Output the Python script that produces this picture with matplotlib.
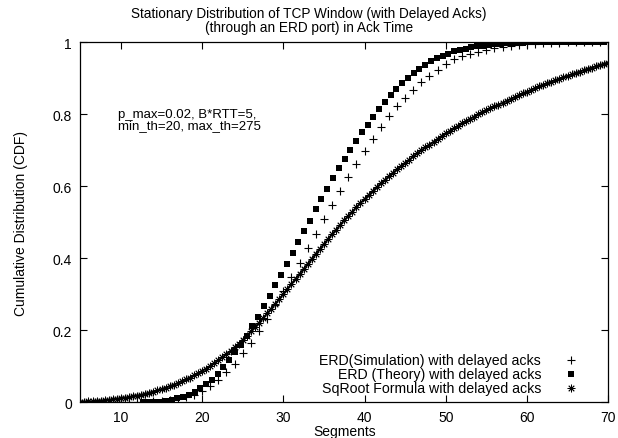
import numpy as np
import matplotlib
matplotlib.use("Agg")
import matplotlib.pyplot as plt
from matplotlib.ticker import FuncFormatter

plt.rcParams['font.family'] = ['Liberation Sans', 'DejaVu Sans']

# ERD simulation (one point per segment value)
sim_x = np.arange(6, 71)
sim_y = [0.000, 0.000, 0.000, 0.000, 0.000, 0.000, 0.001, 0.001, 0.002, 0.003,
         0.005, 0.008, 0.013, 0.020, 0.030, 0.044, 0.061, 0.082, 0.106, 0.135,
         0.164, 0.198, 0.231, 0.269, 0.308, 0.346, 0.385, 0.427, 0.467, 0.507,
         0.547, 0.587, 0.624, 0.661, 0.698, 0.731, 0.763, 0.795, 0.821, 0.844,
         0.868, 0.888, 0.907, 0.923, 0.939, 0.953, 0.960, 0.967, 0.973, 0.979,
         0.983, 0.987, 0.990, 0.992, 0.994, 0.995, 0.996, 0.997, 0.998, 0.999,
         0.999, 1.000, 1.000, 1.000, 1.000]

# ERD theory (sampled every ~0.71 segments from 12.69)
theory_x = 12.69 + 0.71 * np.arange(81)
theory_y = [0.000, 0.000, 0.000, 0.001, 0.003, 0.006, 0.010, 0.015, 0.020, 0.029,
            0.038, 0.050, 0.062, 0.078, 0.096, 0.117, 0.138, 0.159, 0.182, 0.210,
            0.237, 0.266, 0.294, 0.325, 0.353, 0.383, 0.414, 0.444, 0.474, 0.504,
            0.536, 0.564, 0.592, 0.621, 0.649, 0.675, 0.701, 0.724, 0.749, 0.770,
            0.792, 0.814, 0.834, 0.853, 0.870, 0.886, 0.900, 0.913, 0.925, 0.936,
            0.946, 0.955, 0.962, 0.968, 0.974, 0.978, 0.982, 0.985, 0.988, 0.990,
            0.992, 0.994, 0.995, 0.996, 0.997, 0.998, 0.998, 0.999, 0.999, 0.999,
            0.999, 1.000, 1.000, 1.000, 1.000, 1.000, 1.000, 1.000, 1.000, 1.000,
            1.000]

# SqRoot formula (every 0.5 segment)
sqrt_x = np.arange(5, 70.5, 0.5)
sqrt_y = [0.001, 0.001, 0.002, 0.002, 0.003, 0.004, 0.005, 0.006, 0.008, 0.009,
          0.011, 0.012, 0.014, 0.016, 0.018, 0.020, 0.023, 0.026, 0.029, 0.032,
          0.036, 0.040, 0.044, 0.048, 0.053, 0.058, 0.063, 0.068, 0.074, 0.080,
          0.087, 0.093, 0.100, 0.108, 0.116, 0.124, 0.133, 0.142, 0.152, 0.162,
          0.173, 0.184, 0.196, 0.208, 0.220, 0.233, 0.246, 0.259, 0.273, 0.286,
          0.300, 0.314, 0.328, 0.342, 0.356, 0.370, 0.384, 0.398, 0.412, 0.426,
          0.439, 0.453, 0.466, 0.479, 0.492, 0.505, 0.517, 0.529, 0.541, 0.553,
          0.564, 0.575, 0.586, 0.597, 0.607, 0.617, 0.627, 0.637, 0.646, 0.655,
          0.664, 0.673, 0.682, 0.691, 0.699, 0.707, 0.715, 0.723, 0.731, 0.739,
          0.746, 0.753, 0.760, 0.767, 0.774, 0.781, 0.787, 0.793, 0.799, 0.805,
          0.810, 0.816, 0.821, 0.826, 0.831, 0.837, 0.842, 0.847, 0.852, 0.857,
          0.862, 0.867, 0.872, 0.877, 0.881, 0.886, 0.890, 0.894, 0.898, 0.902,
          0.906, 0.910, 0.914, 0.918, 0.922, 0.926, 0.929, 0.933, 0.936, 0.940,
          0.943]

labels = ['ERD(Simulation) with delayed acks',
          'ERD (Theory) with delayed acks',
          'SqRoot Formula with delayed acks']

fig = plt.figure(figsize=(6.18, 4.39), dpi=100)
ax = fig.add_axes([0.130, 0.082, 0.854, 0.820])

star = (8, 2, 0)
styles = [dict(marker='+', ms=5.5, mew=0.8, ls='none', color='black'),
          dict(marker='s', ms=4.4, mew=0, ls='none', color='black'),
          dict(marker=star, ms=5.5, mew=0.6, ls='none', color='black')]

# dense asterisks read as a thick line in the original
ax.plot(sqrt_x, sqrt_y, color='black', lw=1.4)
ax.plot(sqrt_x, sqrt_y, **styles[2])
ax.plot(theory_x, theory_y, **styles[1])
ax.plot(sim_x, sim_y, **styles[0])

ax.set_xlim(5, 70)
ax.set_ylim(0, 1)
ax.set_xticks([10, 20, 30, 40, 50, 60, 70])
ax.set_yticks([0, 0.2, 0.4, 0.6, 0.8, 1.0])
ax.yaxis.set_major_formatter(FuncFormatter(lambda v, p: f'{v:g}'))
ax.tick_params(direction='in', length=5, width=0.8, top=True, right=True,
               labelsize=10, pad=6)
for s in ax.spines.values():
    s.set_linewidth(0.9)

ax.set_xlabel('Segments', fontsize=10, labelpad=0)
ax.set_ylabel('Cumulative Distribution (CDF)', fontsize=10, labelpad=18)
fig.text(0.5, 0.983, 'Stationary Distribution of TCP Window (with Delayed Acks)\n'
         '(through an ERD port) in Ack Time', ha='center', va='top',
         fontsize=9.8, linespacing=0.95)

ax.text(9.6, 0.818, 'p_max=0.02, B*RTT=5,\nmin_th=20, max_th=275',
        ha='left', va='top', fontsize=9.5, linespacing=1.0)

# key, gnuplot style: right aligned text, sample point to the right
for i, (lab, st) in enumerate(zip(labels, styles)):
    yy = 0.116 - 0.039 * i
    ax.text(0.873, yy, lab, transform=ax.transAxes, ha='right', va='center',
            fontsize=10.2)
    ax.plot([0.930], [yy], transform=ax.transAxes, clip_on=False, **st)

fig.savefig('out.png', dpi=100)
